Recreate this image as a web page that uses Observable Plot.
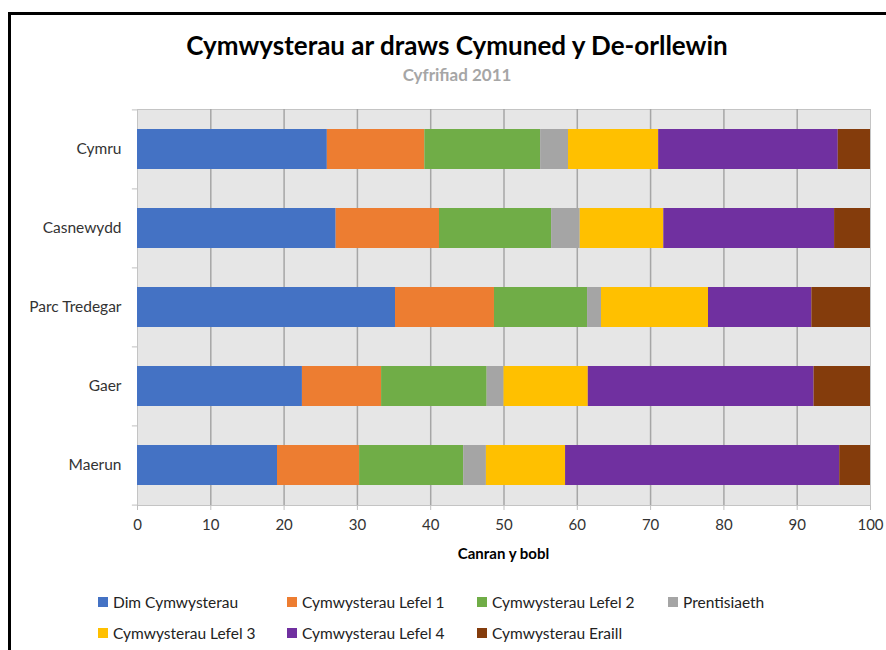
<!DOCTYPE html>
<html>
<head>
<meta charset="utf-8">
<script src="https://cdn.jsdelivr.net/npm/d3@7"></script>
<script src="https://cdn.jsdelivr.net/npm/@observablehq/plot@0.6"></script>
<style>
  html, body { margin: 0; padding: 0; background: #fff; }
  #wrap { position: relative; width: 886px; height: 650px; overflow: hidden; font-family: Lato, "Open Sans", sans-serif; }
  #frame { position: absolute; left: 8px; top: 12px; width: 1000px; height: 1000px; border: 3px solid #000; box-sizing: border-box; }
  #title { position: absolute; top: 29px; left: 0; width: 914px; text-align: center; font-weight: bold; font-size: 26px; color: #000; }
  #subtitle { position: absolute; top: 64px; left: 0; width: 914px; text-align: center; font-weight: bold; font-size: 17px; color: #a6a6a6; }
  #chart { position: absolute; left: 0; top: 0; }
  #xlabel { position: absolute; top: 544px; left: 137px; width: 733px; text-align: center; font-weight: bold; font-size: 15px; color: #000; }
  .lg { position: absolute; display: flex; align-items: center; font-size: 15.5px; color: #222; white-space: nowrap; }
  .lg span.sw { display: inline-block; width: 10px; height: 10px; margin-right: 5px; }
</style>
</head>
<body>
<div id="wrap">
  <div id="frame"></div>
  <div id="title">Cymwysterau ar draws Cymuned y De-orllewin</div>
  <div id="subtitle">Cyfrifiad 2011</div>
  <div id="chart"></div>
  <div id="xlabel">Canran y bobl</div>
  <div id="legend"></div>
</div>
<script>
const areas = ["Cymru", "Casnewydd", "Parc Tredegar", "Gaer", "Maerun"];
const categories = ["Dim Cymwysterau", "Cymwysterau Lefel 1", "Cymwysterau Lefel 2", "Prentisiaeth", "Cymwysterau Lefel 3", "Cymwysterau Lefel 4", "Cymwysterau Eraill"];
const colors = ["#4472C4", "#ED7D31", "#70AD47", "#A5A5A5", "#FFC000", "#7030A0", "#843C0C"];
const dimCymwysterau = [25.9, 27.1, 35.2, 22.5, 19.1];
const lefel1 = [13.3, 14.1, 13.5, 10.8, 11.2];
const lefel2 = [15.8, 15.3, 12.7, 14.4, 14.2];
const prentisiaeth = [3.8, 3.9, 1.9, 2.3, 3.1];
const lefel3 = [12.3, 11.4, 14.6, 11.5, 10.8];
const lefel4 = [24.5, 23.3, 14.1, 30.8, 37.4];
const eraill = [4.4, 4.9, 8.0, 7.7, 4.2];
const xTicks = [0, 10, 20, 30, 40, 50, 60, 70, 80, 90, 100];
const gridTicks = [10, 20, 30, 40, 50, 60, 70, 80, 90];

const series = [dimCymwysterau, lefel1, lefel2, prentisiaeth, lefel3, lefel4, eraill];
const data = [];
areas.forEach((a, i) => {
  categories.forEach((c, j) => data.push({area: a, cat: c, value: series[j][i]}));
});

const W = 886, H = 560;
const mt = 109, mb = 55, ml = 137, mr = 16;
const step = (H - mt - mb) / areas.length;

const chart = Plot.plot({
  width: W,
  height: H,
  marginTop: mt,
  marginBottom: mb,
  marginLeft: ml,
  marginRight: mr,
  style: {fontFamily: "Lato, 'Open Sans', sans-serif", background: "transparent", overflow: "visible"},
  x: {domain: [0, 100], axis: null},
  y: {domain: areas, paddingInner: 0.5, paddingOuter: 0.25, axis: null},
  color: {domain: categories, range: colors},
  marks: [
    Plot.frame({fill: "#e6e6e6", stroke: "#c4c4c4"}),
    Plot.gridX(gridTicks, {stroke: "#a6a6a6", strokeOpacity: 1, strokeWidth: 1.5}),
    Plot.barX(data, {x: "value", y: "area", fill: "cat", order: categories, inset: 0}),
    Plot.ruleY(areas, {y: d => d, dy: -step / 2, x1: -0.7, x2: 0, stroke: "#bfbfbf"}),
    Plot.ruleY(areas.slice(-1), {y: d => d, dy: step / 2, x1: -0.7, x2: 0, stroke: "#bfbfbf"}),
    Plot.axisX(xTicks, {tickSize: 5, stroke: "#bfbfbf", color: "#333", fontSize: 15, tickPadding: 9, tickFormat: d => String(d), label: null}),
    Plot.axisY({tickSize: 0, tickPadding: 16, fontSize: 15.5, color: "#333", label: null})
  ]
});
document.getElementById("chart").appendChild(chart);

// legend
const legendPos = [[98, 602], [287, 602], [477, 602], [668, 602], [98, 633], [287, 633], [477, 633]];
const lg = document.getElementById("legend");
categories.forEach((c, i) => {
  const d = document.createElement("div");
  d.className = "lg";
  d.style.left = legendPos[i][0] + "px";
  d.style.top = (legendPos[i][1] - 10) + "px";
  d.style.height = "20px";
  d.innerHTML = `<span class="sw" style="background:${colors[i]}"></span>${c}`;
  lg.appendChild(d);
});
</script>
</body>
</html>
